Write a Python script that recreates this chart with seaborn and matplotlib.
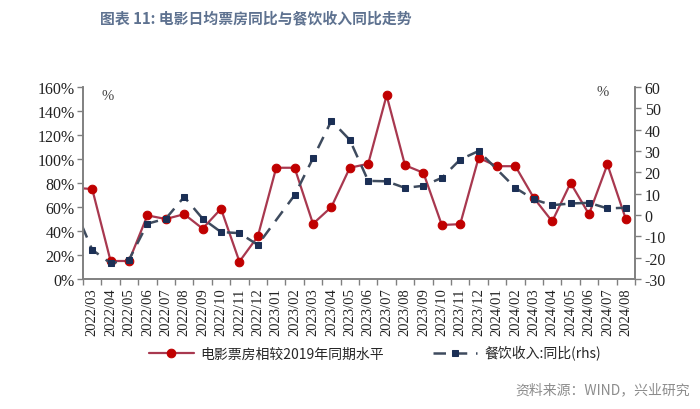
import numpy as np
import pandas as pd
import matplotlib
matplotlib.use("Agg")
import matplotlib.pyplot as plt
from matplotlib import font_manager
from matplotlib.ticker import FixedLocator, NullFormatter
import seaborn as sns

# ---------------- data ----------------
months = ["2022/03", "2022/04", "2022/05", "2022/06", "2022/07", "2022/08", "2022/09",
          "2022/10", "2022/11", "2022/12", "2023/01", "2023/02", "2023/03", "2023/04",
          "2023/05", "2023/06", "2023/07", "2023/08", "2023/09", "2023/10", "2023/11",
          "2023/12", "2024/01", "2024/02", "2024/03", "2024/04", "2024/05", "2024/06",
          "2024/07", "2024/08"]
# value for 2022/02, just left of the visible range (line enters from the axis edge)
box_prev = 76
food_prev = 4.0
# 电影票房相较2019年同期水平 (%), left axis
box_office = [75, 15, 15, 53, 50, 54, 42, 58.5, 14.5, 35.5, 92.7, 92.7, 46, 60,
              92.7, 96, 153, 94.8, 88.5, 45, 45.7, 101, 94, 94, 67.6, 48, 80, 54,
              95.5, 50]
# 餐饮收入同比 (%), right axis; January values not published
food_rev = [-16.3, -22.6, -21, -4.1, -1.7, 8.5, -1.7, -8, -8.5, -14, np.nan, 9.3,
            26.6, 44.2, 35.2, 16, 15.8, 12.7, 13.7, 17.4, 26, 30, np.nan, 12.7, 7.3,
            4.6, 5.4, 5.7, 3.1, 3.4]
left_ticks = [0, 20, 40, 60, 80, 100, 120, 140, 160]
right_ticks = [-30, -20, -10, 0, 10, 20, 30, 40, 50, 60]

title = "图表 11: 电影日均票房同比与餐饮收入同比走势"
label_box = "电影票房相较2019年同期水平"
label_food = "餐饮收入:同比(rhs)"
source = "资料来源：WIND，兴业研究"

# ---------------- frames ----------------
pos = list(range(-1, len(months)))
df_box = pd.DataFrame({"pos": pos, "val": [box_prev] + box_office})
df_food = pd.DataFrame({"pos": pos, "val": [food_prev] + food_rev}).dropna()

# ---------------- style ----------------
sns.set_theme(style="white")
serif = "DejaVu Serif"
for cand in ["Liberation Serif", "Times New Roman", "DejaVu Serif"]:
    try:
        font_manager.findfont(cand, fallback_to_default=False)
        serif = cand
        break
    except Exception:
        pass
plt.rcParams["font.family"] = [serif, "Noto Sans CJK SC", "DejaVu Sans"]
cjk = ["Noto Sans CJK SC", "DejaVu Sans"]

red_line = "#A8384F"
red_mark = "#C00000"
navy_line = "#3E4B5E"
navy_mark = "#1B2F55"
axis_col = "#808080"

fig = plt.figure(figsize=(7, 4.1), dpi=100)
ax = fig.add_axes([83 / 700, 1 - 280 / 410, (635 - 83) / 700, (280 - 88) / 410])
ax2 = ax.twinx()

sns.lineplot(data=df_box, x="pos", y="val", ax=ax, color=red_line, linewidth=1.6,
             marker="o", markersize=6.2, markerfacecolor=red_mark,
             markeredgecolor=red_mark, label=label_box, legend=False)
sns.lineplot(data=df_food, x="pos", y="val", ax=ax2, color=navy_line, linewidth=1.8,
             linestyle=(0, (5, 3.5)), marker="s", markersize=5,
             markerfacecolor=navy_mark, markeredgecolor=navy_mark,
             label=label_food, legend=False)

n = len(months)
ax.set_xlim(-0.5, n - 0.5)
ax.set_ylim(0, 160)
ax2.set_ylim(-30, 60)

ax.set_xticks(range(n))
ax.set_xticklabels(months, rotation=90, fontsize=10.5, color="#222222", family=serif)
ax.xaxis.set_minor_locator(FixedLocator(np.arange(-0.5, n, 1.0)))
ax.xaxis.set_minor_formatter(NullFormatter())
ax.tick_params(axis="x", which="major", length=0, pad=6)
ax.tick_params(axis="x", which="minor", length=4, width=1, color=axis_col,
               direction="out", bottom=True)

ax.set_yticks(left_ticks)
ax.set_yticklabels([f"{v}%" for v in left_ticks], fontsize=11.5, color="#222222", family=serif)
ax.tick_params(axis="y", left=True, length=4, width=1, color=axis_col, direction="out", pad=2)
ax2.set_yticks(right_ticks)
ax2.set_yticklabels([str(v) for v in right_ticks], fontsize=11.5, color="#222222", family=serif)
ax2.tick_params(axis="y", right=True, length=4, width=1, color=axis_col, direction="out", pad=3)

for a in (ax, ax2):
    a.set_xlabel("")
    a.set_ylabel("")
    a.spines["top"].set_visible(False)
    for s in ("left", "right", "bottom"):
        a.spines[s].set_color(axis_col)
        a.spines[s].set_linewidth(1.2)
ax.grid(False)
ax2.grid(False)

fig.text(108 / 700, 1 - 97 / 410, "%", fontsize=10.5, ha="center", va="center",
         color="#444444", family=serif)
fig.text(603 / 700, 1 - 92 / 410, "%", fontsize=10.5, ha="center", va="center",
         color="#444444", family=serif)

fig.text(100 / 700, 1 - 18 / 410, title, fontsize=10.7, fontweight="bold",
         color="#5E7290", ha="left", va="center", family=cjk)

h1, l1 = ax.get_legend_handles_labels()
h2, l2 = ax2.get_legend_handles_labels()
fig.legend(h1 + h2, l1 + l2, loc="center", bbox_to_anchor=(375 / 700, 1 - 354 / 410),
           ncol=2, frameon=False, prop={"family": cjk, "size": 10}, handlelength=3.2,
           columnspacing=3.5, handletextpad=0.5)

fig.text(690 / 700, 1 - 390 / 410, source, fontsize=10, color="#8C8C8C",
         ha="right", va="center", family=cjk)

fig.savefig("out.png", dpi=100)
